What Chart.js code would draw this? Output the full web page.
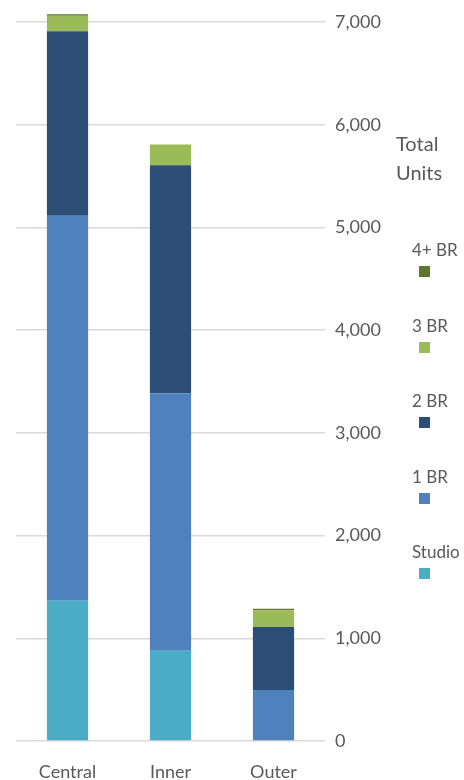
<!DOCTYPE html>
<html>
<head>
<meta charset="utf-8">
<script src="https://cdn.jsdelivr.net/npm/chart.js@4/dist/chart.umd.min.js"></script>
<style>
  html, body { margin: 0; padding: 0; background: #fff; }
  #wrap { position: relative; width: 464px; height: 780px; overflow: hidden; }
  #legend { position: absolute; left: 0; top: 0; width: 464px; height: 780px; pointer-events: none;
            font-family: Lato, "Open Sans", sans-serif; color: #595959; }
  .lg-title { position: absolute; left: 396px; top: 129px; font-size: 20px; line-height: 29px; }
  .lg-text { position: absolute; left: 412px; font-size: 17px; line-height: 18px; white-space: nowrap; }
  .lg-box { position: absolute; left: 419px; width: 11px; height: 11px; }
</style>
</head>
<body>
<div id="wrap">
  <canvas id="c" width="464" height="780"></canvas>
  <div id="legend"><div class="lg-title">Total<br>Units</div></div>
</div>
<script>
const categories = ['Central', 'Inner', 'Outer'];
const studio = [1365, 878, 0];
const br1 = [3749, 2507, 496];
const br2 = [1796, 2221, 613];
const br3 = [152, 201, 165];
const br4 = [14, 0, 14];
const seriesNames = ['Studio', '1 BR', '2 BR', '3 BR', '4+ BR'];
const seriesColors = ['#4BACC6', '#4F81BD', '#2C4D75', '#9BBB59', '#5F7530'];
const seriesValues = [studio, br1, br2, br3, br4];
const yTicks = [0, 1000, 2000, 3000, 4000, 5000, 6000, 7000];

const datasets = seriesNames.map((name, i) => ({
  label: name,
  data: seriesValues[i],
  backgroundColor: seriesColors[i],
  borderWidth: 0,
  barPercentage: 0.4,
  categoryPercentage: 1.0,
  clip: false
}));

const chart = new Chart(document.getElementById('c'), {
  type: 'bar',
  data: { labels: categories, datasets },
  options: {
    responsive: false,
    animation: false,
    layout: { padding: { left: 16, top: 22, right: 0, bottom: 0 } },
    plugins: { legend: { display: false }, tooltip: { enabled: false } },
    scales: {
      x: {
        stacked: true,
        offset: true,
        afterFit: (s) => { s.height = 39; },
        grid: { display: false, drawTicks: false },
        border: { display: false },
        ticks: { color: '#595959', font: { family: 'Lato', size: 18 }, padding: 20 }
      },
      y: {
        stacked: true,
        position: 'right',
        min: 0,
        max: 7000,
        afterBuildTicks: (s) => { s.ticks = yTicks.map(v => ({ value: v })); },
        afterFit: (s) => { s.width = 139; },
        grid: { color: '#d9d9d9', lineWidth: 1.5, drawTicks: false },
        border: { display: false },
        ticks: {
          color: '#595959',
          font: { family: 'Lato', size: 18 },
          padding: 10,
          callback: (v) => Number(v).toLocaleString('en-US')
        }
      }
    }
  }
});

// HTML legend, reverse order (4+ BR on top)
const legend = document.getElementById('legend');
const order = seriesNames.map((_, i) => i).reverse();
order.forEach((idx, k) => {
  const top = 241 + k * 75.5;
  const t = document.createElement('div');
  t.className = 'lg-text';
  t.style.top = top + 'px';
  t.textContent = seriesNames[idx];
  legend.appendChild(t);
  const b = document.createElement('div');
  b.className = 'lg-box';
  b.style.top = (top + 25) + 'px';
  b.style.background = seriesColors[idx];
  legend.appendChild(b);
});
</script>
</body>
</html>
